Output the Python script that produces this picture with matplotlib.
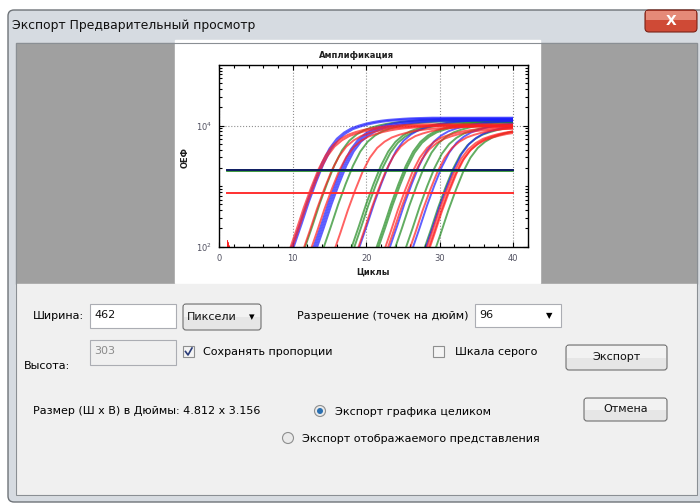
import numpy as np
import matplotlib
matplotlib.use('Agg')
import matplotlib.pyplot as plt
from matplotlib.patches import Rectangle, FancyBboxPatch, Circle
from matplotlib.ticker import FixedLocator, MultipleLocator, LogFormatterSciNotation, NullFormatter

plt.rcParams['font.family'] = ['DejaVu Sans']

# данные: форма кривой (доля плато) по циклам относительно начала роста
OFFSETS = [-3, -2, -1, 0, 1, 2, 3, 4, 5, 6, 7, 8, 9, 10, 11, 12, 13, 14, 15, 16, 17, 18, 19]
PROFILE = [0.002, 0.003, 0.005, 0.008, 0.018, 0.042, 0.09, 0.18, 0.31, 0.45, 0.57, 0.67,
           0.74, 0.80, 0.85, 0.89, 0.92, 0.94, 0.96, 0.975, 0.985, 0.993, 1.0]

# начало роста (цикл) и плато для каждой кривой
blue_start = [10.0, 10.2, 12.9, 13.1, 13.3, 19.1, 23.2, 26.3, 28.0]
blue_plateau = [13500, 13000, 13000, 12500, 12000, 12500, 12000, 11500, 11000]
red_start = [9.5, 9.7, 11.3, 12.3, 15.5, 18.7, 22.3, 22.6, 25.7, 27.9, 28.1, 28.3]
red_plateau = [10500, 10000, 10000, 9800, 9500, 10000, 9500, 9000, 9500, 9000, 8500, 9000]
green_start = [11.7, 14.2, 18.0, 18.3, 21.4, 21.6, 23.9, 25.3, 27.8, 29.2]
green_plateau = [12500, 12000, 12000, 11500, 12000, 11500, 11500, 11000, 10500, 9500]
level_cycle1 = {'blue': 60, 'red': 125, 'green': 60}

thr_blue = 1850
thr_green = 1780
thr_red = 760

y_lo, y_hi = 100, 1.0e5

fig = plt.figure(figsize=(7, 5.04), dpi=100)

# ---- окно диалога ----
bg = fig.add_axes([0, 0, 1, 1])
bg.set_xlim(0, 700)
bg.set_ylim(504, 0)
bg.axis('off')

bg.add_patch(Rectangle((0, 0), 700, 504, color='white'))
bg.add_patch(FancyBboxPatch((8, 10), 700, 492, boxstyle='round,pad=0,rounding_size=6',
                            fc='#d6dbe1', ec='#6e7378', lw=1))
bg.add_patch(Rectangle((16, 43), 681, 241, color='#a0a0a0'))
bg.add_patch(Rectangle((175, 40), 365, 243, color='white'))
bg.add_patch(Rectangle((16, 284), 681, 211, color='#f0f0f0'))
bg.add_patch(Rectangle((16, 43), 681, 452, fill=False, ec='#8a8f94', lw=0.8))

bg.text(12, 25, 'Экспорт Предварительный просмотр', fontsize=8.9, va='center', color='#101010')

# кнопка закрытия
bg.add_patch(FancyBboxPatch((645, 10), 52, 22, boxstyle='round,pad=0,rounding_size=4',
                            fc='#cf4a36', ec='#7a2418', lw=0.8))
bg.add_patch(Rectangle((646, 11), 50, 9, color='#e58a78', lw=0))
bg.text(671, 21, 'X', fontsize=10, fontweight='bold', color='white', ha='center', va='center')

FS = 8.0


def button(x, y, w, h, label, ha='center', tx=None):
    bg.add_patch(FancyBboxPatch((x, y), w, h, boxstyle='round,pad=0,rounding_size=3',
                                fc='#e6e6e6', ec='#707070', lw=0.8))
    bg.add_patch(Rectangle((x + 1, y + 1), w - 2, h / 2 - 1, color='#f2f2f2', lw=0))
    if tx is None:
        tx = x + w / 2
    bg.text(tx, y + h / 2, label, fontsize=FS, ha=ha, va='center', color='#101010')


def textbox(x, y, w, h, label, color='#101010', fc='white'):
    bg.add_patch(Rectangle((x, y), w, h, fc=fc, ec='#abadb3', lw=0.8))
    bg.text(x + 4, y + h / 2 - 1, label, fontsize=FS, va='center', color=color)


bg.text(33, 316, 'Ширина:', fontsize=FS, va='center')
textbox(90, 304, 86, 24, '462')
button(183, 304, 78, 26, 'Пиксели', ha='left', tx=187)
bg.text(252, 317, '▾', fontsize=8, ha='center', va='center')
bg.text(297, 316, 'Разрешение (точек на дюйм)', fontsize=FS, va='center')
textbox(475, 304, 86, 23, '96')
bg.text(549, 316, '▼', fontsize=6, ha='center', va='center')

textbox(90, 340, 86, 25, '303', color='#8a8a8a', fc='#f0f0f0')
bg.text(24, 366, 'Высота:', fontsize=FS, va='center')

bg.add_patch(Rectangle((183, 346), 11, 11, fc='#f4f4f4', ec='#8e8f8f', lw=0.8))
bg.plot([185.5, 188, 192], [351.5, 355, 348], color='#2a3c78', lw=1.2)
bg.text(203, 352, 'Сохранять пропорции', fontsize=FS, va='center')
bg.add_patch(Rectangle((433, 346), 11, 11, fc='#f4f4f4', ec='#8e8f8f', lw=0.8))
bg.text(455, 352, 'Шкала серого', fontsize=FS, va='center')
button(566, 345, 101, 25, 'Экспорт')

bg.text(33, 411, 'Размер (Ш x В) в Дюймы: 4.812 x 3.156', fontsize=FS, va='center')
bg.add_patch(Circle((320, 411), 5.5, fc='#eaeaea', ec='#8e8f8f', lw=0.8))
bg.add_patch(Circle((320, 411), 3, fc='#2a6fb0', ec='none'))
bg.text(335, 412, 'Экспорт графика целиком', fontsize=FS, va='center')
button(584, 398, 83, 23, 'Отмена')
bg.add_patch(Circle((288, 438), 5.5, fc='#eaeaea', ec='#8e8f8f', lw=0.8))
bg.text(302, 439, 'Экспорт отображаемого представления', fontsize=FS, va='center')

# ---- график амплификации ----
ax = fig.add_axes([219.3 / 700, (504 - 246.7) / 504, 308.4 / 700, 181.7 / 504])
ax.set_yscale('log')
ax.set_xlim(0, 42)
ax.set_ylim(y_lo, y_hi)

clip = Rectangle((1, y_lo), 39, y_hi - y_lo, transform=ax.transData, visible=False)
ax.add_patch(clip)

curves = [('green', '#1f8a1f', green_start, green_plateau),
          ('blue', '#1c1cff', blue_start, blue_plateau),
          ('red', '#ff2020', red_start, red_plateau)]
for name, col, starts, plateaus in curves:
    for s, p in zip(starts, plateaus):
        xs = [1, 2] + [s + o for o in OFFSETS] + [s + OFFSETS[-1] + 30]
        ys = [level_cycle1[name], 50] + [p * f for f in PROFILE] + [p]
        ln, = ax.plot(xs, ys, color=col, lw=1.4, alpha=0.7, solid_capstyle='butt')
        ln.set_clip_path(clip)

ax.plot([1, 40], [thr_green, thr_green], color='#1f8a1f', lw=1.2)
ax.plot([1, 40], [thr_blue, thr_blue], color='#0c1a60', lw=1.4)
ax.plot([1, 40], [thr_red, thr_red], color='#ff3030', lw=1.4)

minor_y = [k * 10.0 ** e for e in (2, 3, 4) for k in range(2, 10)] + [1e3]
ax.xaxis.set_major_locator(MultipleLocator(10))
ax.xaxis.set_minor_locator(MultipleLocator(2))
ax.yaxis.set_major_locator(FixedLocator([1e2, 1e4]))
ax.yaxis.set_major_formatter(LogFormatterSciNotation(base=10))
ax.yaxis.set_minor_locator(FixedLocator(minor_y))
ax.yaxis.set_minor_formatter(NullFormatter())
ax.tick_params(which='both', direction='in', top=True, right=True, labelsize=6,
               labelcolor='#505060', width=0.8)
ax.tick_params(which='major', length=3.5, pad=5)
ax.tick_params(which='minor', length=2.5)
ax.grid(True, which='major', ls=':', color='#909090', lw=0.8)
for sp in ax.spines.values():
    sp.set_linewidth(1)

fig.text(357 / 700, 1 - 56 / 504, 'Амплификация', fontsize=6, fontweight='bold',
         ha='center', va='center', color='#202020')
fig.text(185 / 700, 1 - 158 / 504, 'ОЕФ', fontsize=6, fontweight='bold',
         rotation=90, ha='center', va='center', color='#202020')
fig.text(373 / 700, 1 - 272 / 504, 'Циклы', fontsize=6, fontweight='bold',
         ha='center', va='center', color='#202020')

fig.savefig('out.png', dpi=100)
